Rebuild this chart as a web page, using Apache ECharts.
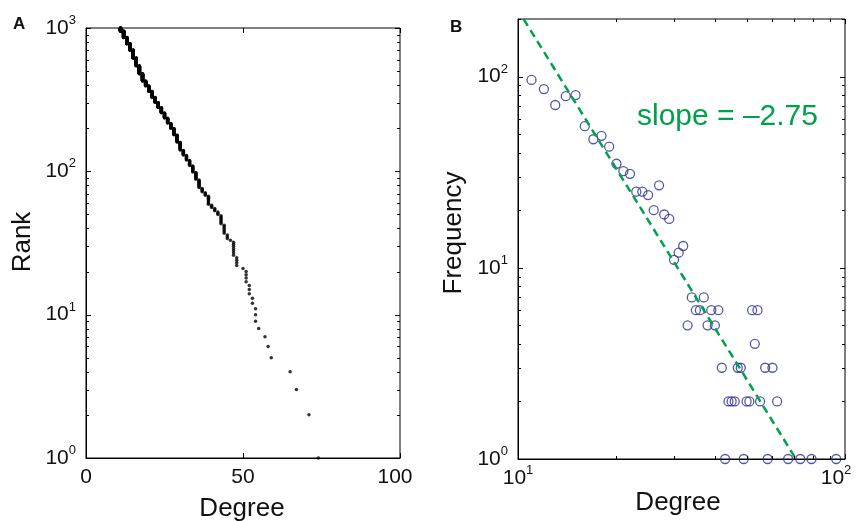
<!DOCTYPE html>
<html><head><meta charset="utf-8">
<script src="https://cdn.jsdelivr.net/npm/echarts@6/dist/echarts.min.js"></script>
<style>html,body{margin:0;padding:0;background:#fff}#c{width:856px;height:521px}</style>
</head><body><div id="c"></div>
<script>
// ---------- Panel A: rank plot (distinct degree values, number of nodes at each, from highest degree down) ----------
const rankDegree = [74,71,67,65,59,58,57,55,54,53,52,51,50,48,47,46,45,44,43,42,41,40,39,38,37,36,35,34,33,32,31,30,29,28,27,26,25,24,23,22,21,20,19,18,17,16,15,14,13,12,11];
const rankCount  = [ 1, 1, 1, 1, 1, 1, 1, 1, 3, 2, 3, 4, 1, 4, 7, 1, 3, 6, 7, 3, 3, 3, 9, 4, 5,11,11,11,10,10,11,19,20,20,17,19,20,23,24,26,33,33,32,53,65,73,84,75,82,92,50];

// ---------- Panel B: degree frequency ----------
const freqDegree = [11,12,13,14,15,16,17,18,19,20,21,22,23,24,25,26,27,28,29,30,31,32,33,34,35,36,37,38,39,40,41,42,43,44,45,46,47,48,49,50,51,52,53,54,55,57,58,60,62,67,73,79,94];
const freqCount  = [96,86,71,79,80,55,47,49,43,35,32,31,25,25,24,20,27,19,18,11,12,13, 5, 7, 6, 6, 7, 5, 6, 5, 6, 3, 1, 2, 2, 2, 3, 3, 1, 2, 2, 6, 4, 6, 2, 3, 1, 3, 2, 1, 1, 1, 1];

// fitted power law (dashed line), end points
const fitDegree = [10.4, 70.8];
const fitFreq   = [200, 1];
const fitLabel  = 'slope = \u20132.75';

// ---------- axes / ticks ----------
const rankRange   = [1, 1000];
const degreeRangeA = [0, 100];
const freqRange   = [1, 200];
const degreeRangeB = [10, 100];
const degreeTicksA = [0, 50, 100];
const rankMajor  = [1, 10, 100, 1000];
const rankMinor  = [2,3,4,5,6,7,8,9,20,30,40,50,60,70,80,90,200,300,400,500,600,700,800,900];
const freqMajor  = [1, 10, 100];
const freqMinor  = [2,3,4,5,6,7,8,9,20,30,40,50,60,70,80,90,200];
const degreeMajorB = [10, 100];
const degreeMinorB = [20,30,40,50,60,70,80,90];

const FONT = '"Liberation Sans", Arial, Helvetica, sans-serif';
const INK = '#111';
const GREEN = '#00A14B';
const BLUE = '#2B2E93';

const rich = {
  b: {fontSize: 21, lineHeight: 28, fontFamily: FONT, color: INK},
  s: {fontSize: 13, lineHeight: 13, verticalAlign: 'top', fontFamily: FONT, color: INK},
  p10: {width: 10, fontSize: 21},
  p18: {width: 18, fontSize: 21}
};
function powLabel(v, pad) {
  const e = Math.round(Math.log10(v));
  if (Math.abs(v - Math.pow(10, e)) > 1e-6 * v) return '';
  return '{b|10}{s|' + e + '}' + (pad ? '{' + pad + '| }' : '');
}

// rank points: each node gets the next rank, highest degree first
const rankPoints = [];
let rk = 0;
rankDegree.forEach((d, i) => {
  for (let k = 0; k < rankCount[i]; k++) { rk++; rankPoints.push([d, rk]); }
});
const freqPoints = freqDegree.map((d, i) => [d, freqCount[i]]);
const fitPoints = fitDegree.map((d, i) => [d, fitFreq[i]]);

function tickSeries(idx, xr, yr, xMajor, xMinor, yMajor, yMinor) {
  const data = [];
  xMajor.forEach(v => data.push([v, yr[0], 0, 1]));
  xMinor.forEach(v => data.push([v, yr[0], 0, 0]));
  yMajor.forEach(v => data.push([xr[0], v, 1, 1]));
  yMinor.forEach(v => data.push([xr[0], v, 1, 0]));
  return {
    type: 'custom', xAxisIndex: idx, yAxisIndex: idx, silent: true, clip: false, z: 10,
    data: data,
    renderItem: function (params, api) {
      const v0 = api.value(0), v1 = api.value(1), isY = api.value(2);
      const L = api.value(3) ? 5 : 3;
      const style = {stroke: '#000', lineWidth: 1};
      if (!isY) {
        const a = api.coord([v0, yr[0]]), b = api.coord([v0, yr[1]]);
        const x = Math.round(a[0]) + 0.5;
        return {type: 'group', children: [
          {type: 'line', shape: {x1: x, y1: a[1], x2: x, y2: a[1] - L}, style: style},
          {type: 'line', shape: {x1: x, y1: b[1], x2: x, y2: b[1] + L}, style: style}
        ]};
      } else {
        const a = api.coord([xr[0], v1]), b = api.coord([xr[1], v1]);
        const y = Math.round(a[1]) + 0.5;
        return {type: 'group', children: [
          {type: 'line', shape: {x1: a[0], y1: y, x2: a[0] + L, y2: y}, style: style},
          {type: 'line', shape: {x1: b[0], y1: y, x2: b[0] - L, y2: y}, style: style}
        ]};
      }
    }
  };
}

const axisLine = {show: true, onZero: false, lineStyle: {color: '#000', width: 1}};

const chart = echarts.init(document.getElementById('c'), null, {renderer: 'canvas'});
chart.setOption({
  animation: false,
  backgroundColor: '#fff',
  grid: [
    {left: 86, top: 28, width: 314, height: 430, show: true, borderColor: '#000', borderWidth: 1, outerBoundsMode: 'none', containLabel: false},
    {left: 518, top: 19, width: 327, height: 440, show: true, borderColor: '#000', borderWidth: 1, outerBoundsMode: 'none', containLabel: false}
  ],
  xAxis: [
    {gridIndex: 0, type: 'value', min: degreeRangeA[0], max: degreeRangeA[1], interval: 50,
     axisLine: axisLine, axisTick: {show: false}, splitLine: {show: false},
     axisLabel: {margin: 5, rich: rich, formatter: v => degreeTicksA.indexOf(v) < 0 ? '' : ('{b|' + v + '}' + (v === degreeRangeA[1] ? '{p10| }' : ''))}},
    {gridIndex: 1, type: 'log', logBase: 10, min: degreeRangeB[0], max: degreeRangeB[1],
     axisLine: axisLine, axisTick: {show: false}, splitLine: {show: false},
     axisLabel: {margin: 5, rich: rich, formatter: v => powLabel(v, v === degreeRangeB[1] ? 'p18' : '')}}
  ],
  yAxis: [
    {gridIndex: 0, type: 'log', logBase: 10, min: rankRange[0], max: rankRange[1],
     axisLine: axisLine, axisTick: {show: false}, splitLine: {show: false},
     axisLabel: {margin: 10, rich: rich, formatter: v => powLabel(v)}},
    {gridIndex: 1, type: 'log', logBase: 10, min: freqRange[0], max: freqRange[1],
     axisLine: axisLine, axisTick: {show: false}, splitLine: {show: false},
     axisLabel: {margin: 10, rich: rich, formatter: v => powLabel(v)}}
  ],
  series: [
    {type: 'scatter', xAxisIndex: 0, yAxisIndex: 0, data: rankPoints, symbol: 'circle', symbolSize: 3.5,
     itemStyle: {color: '#000'}, silent: true},
    {type: 'line', xAxisIndex: 1, yAxisIndex: 1, data: fitPoints, symbol: 'none', silent: true,
     lineStyle: {color: GREEN, width: 2.5, type: [8, 5]}},
    {type: 'scatter', xAxisIndex: 1, yAxisIndex: 1, data: freqPoints, symbol: 'circle', symbolSize: 9,
     itemStyle: {color: 'rgba(0,0,0,0)', borderColor: BLUE, borderWidth: 1.3}, silent: true},
    tickSeries(0, degreeRangeA, rankRange, degreeTicksA, [], rankMajor, rankMinor),
    tickSeries(1, degreeRangeB, freqRange, degreeMajorB, degreeMinorB, freqMajor, freqMinor)
  ],
  graphic: [
    {type: 'text', x: 13, y: 24, style: {text: 'A', fontSize: 17, fontWeight: 'bold', fontFamily: FONT, fill: INK, align: 'left', verticalAlign: 'middle'}},
    {type: 'text', x: 450, y: 27, style: {text: 'B', fontSize: 17, fontWeight: 'bold', fontFamily: FONT, fill: INK, align: 'left', verticalAlign: 'middle'}},
    {type: 'text', x: 23, y: 242, rotation: Math.PI / 2, style: {text: 'Rank', fontSize: 26, fontFamily: FONT, fill: INK, align: 'center', verticalAlign: 'middle'}},
    {type: 'text', x: 454, y: 233, rotation: Math.PI / 2, style: {text: 'Frequency', fontSize: 26, fontFamily: FONT, fill: INK, align: 'center', verticalAlign: 'middle'}},
    {type: 'text', x: 242, y: 509, style: {text: 'Degree', fontSize: 26, fontFamily: FONT, fill: INK, align: 'center', verticalAlign: 'middle'}},
    {type: 'text', x: 678, y: 503, style: {text: 'Degree', fontSize: 26, fontFamily: FONT, fill: INK, align: 'center', verticalAlign: 'middle'}},
    {type: 'text', x: 637, y: 117, style: {text: fitLabel, fontSize: 30, fontFamily: FONT, fill: GREEN, align: 'left', verticalAlign: 'middle'}}
  ]
});
</script>
</body></html>
